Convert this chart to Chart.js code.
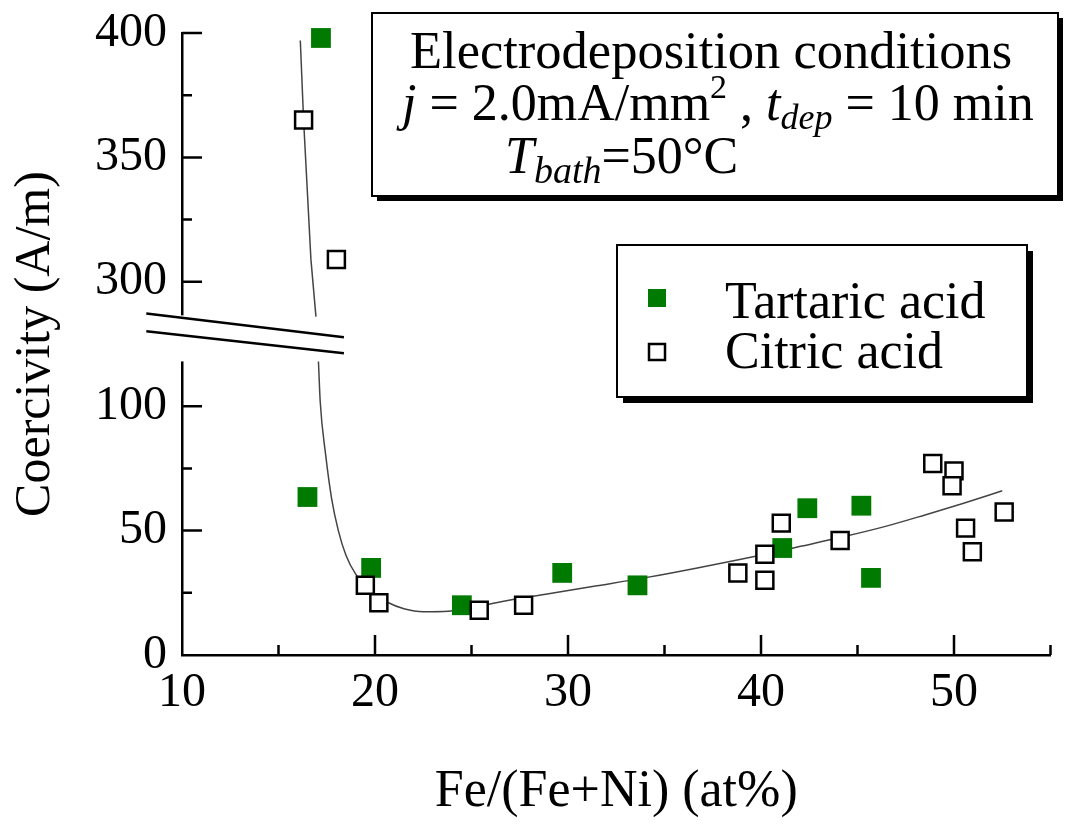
<!DOCTYPE html>
<html>
<head>
<meta charset="utf-8">
<script src="https://cdn.jsdelivr.net/npm/chart.js@4.4.1/dist/chart.umd.min.js"></script>
<style>
  html, body { margin: 0; padding: 0; background: #fff; overflow: hidden; }
  #wrap { width: 1065px; height: 824px; }
</style>
</head>
<body>
<div id="wrap"><canvas id="coercivity"></canvas></div>
<script>
const SERIF = '"Liberation Serif", "Times New Roman", serif';

// Fe/(Fe+Ni) (at%) and coercivity (A/m)
const tartaricFe = [17.2, 16.5, 19.8, 24.5, 29.7, 33.6, 41.1, 42.4, 45.2, 45.7];
const tartaricHc = [398, 63.5, 35, 20, 33, 28, 43, 59, 60, 31];

const citricFe = [16.3, 18.0, 19.5, 20.2, 25.4, 27.7, 38.8, 40.2, 40.2, 41.05, 44.1, 48.9, 50.0, 49.9, 50.6, 50.95, 52.6];
const citricHc = [365, 309, 28, 21, 18, 20, 33, 40.5, 30, 53, 46, 77, 74, 68, 51, 41.5, 57.5];

// trend line (above and below the axis break)
const fitUpperFe = [16.13, 16.3, 16.68, 16.94];
const fitUpperHc = [397, 365, 309, 286];
const fitLowerFe = [17.07, 17.16, 17.45, 17.75, 18.1, 18.5, 19.0, 19.8, 20.7, 21.5, 22.5, 23.8, 25.0, 26.4, 29.0, 31.5, 34.1, 36.7, 39.9, 42.0, 44.2, 46.5, 48.5, 50.5, 52.5];
const fitLowerHc = [118, 102, 80, 63, 50, 40, 32.5, 25.5, 21, 18.6, 17.4, 17.6, 18.8, 21.2, 24.6, 27.8, 31.2, 35.0, 40.0, 43.6, 47.4, 51.8, 56.3, 61, 66];

const xTicks = [10, 20, 30, 40, 50];
const yTickLabels = [0, 50, 100, 300, 350, 400];

// broken y axis: 150..250 on the axis shows 300..400
const BREAK_SHIFT = 150;
const toAxis = (v) => (v > 200 ? v - BREAK_SHIFT : v);
const pts = (xs, ys) => xs.map((x, i) => ({ x: x, y: toAxis(ys[i]) }));

const GREEN = '#007a00';

function drawRuns(ctx, x, y, runs) {
    runs.forEach((r) => {
        ctx.font = `${r.italic ? 'italic ' : ''}${r.size || 52}px ${SERIF}`;
        ctx.fillText(r.text, x, y + (r.dy || 0));
        x += ctx.measureText(r.text).width;
    });
}

function shadowBox(ctx, l, t, r, b, off) {
    ctx.fillStyle = '#000';
    ctx.fillRect(l + off, t + off, r - l, b - t);
    ctx.fillStyle = '#fff';
    ctx.fillRect(l, t, r - l, b - t);
    ctx.strokeStyle = '#000';
    ctx.lineWidth = 2;
    ctx.strokeRect(l, t, r - l, b - t);
}

const frame = {
    id: 'frame',
    afterDraw(chart) {
        const { ctx, chartArea: a, scales: { x, y } } = chart;
        ctx.save();

        // gap in the y axis where it is broken
        const gTop = y.getPixelForValue(136.5);
        const gBot = y.getPixelForValue(118);
        ctx.fillStyle = '#fff';
        ctx.fillRect(a.left - 5, gTop, 10, gBot - gTop);

        // inward tick marks
        ctx.strokeStyle = '#000';
        ctx.lineWidth = 2.5;
        ctx.beginPath();
        for (let v = 15; v <= 55; v += 5) {
            const px = x.getPixelForValue(v);
            const len = xTicks.includes(v) ? 20 : 10;
            ctx.moveTo(px, a.bottom);
            ctx.lineTo(px, a.bottom - len);
        }
        for (let v = 25; v <= 250; v += 25) {
            if (v === 125) continue;
            const py = y.getPixelForValue(v);
            const len = v % 50 === 0 ? 20 : 10;
            ctx.moveTo(a.left, py);
            ctx.lineTo(a.left + len, py);
        }
        ctx.stroke();

        // break marks
        ctx.beginPath();
        [[8.15, 137.3, 18.39, 127.7], [8.15, 130.1, 18.39, 121.3]].forEach(([x0, y0, x1, y1]) => {
            ctx.moveTo(x.getPixelForValue(x0), y.getPixelForValue(y0));
            ctx.lineTo(x.getPixelForValue(x1), y.getPixelForValue(y1));
        });
        ctx.stroke();

        // conditions box
        shadowBox(ctx, 372, 13, 1058, 196, 5);
        ctx.fillStyle = '#000';
        ctx.textBaseline = 'alphabetic';
        ctx.textAlign = 'left';
        drawRuns(ctx, 410, 68, [{ text: 'Electrodeposition conditions', size: 52.5 }]);
        drawRuns(ctx, 402, 120, [
            { text: 'j', italic: true },
            { text: ' = 2.0mA/mm' },
            { text: '2', size: 34, dy: -22 },
            { text: ' , ' },
            { text: 't', italic: true },
            { text: 'dep', italic: true, size: 36, dy: 9 },
            { text: ' = 10 min' },
        ]);
        drawRuns(ctx, 505, 173, [
            { text: 'T', italic: true },
            { text: 'bath', italic: true, size: 38, dy: 10 },
            { text: '=50°C' },
        ]);

        // legend box
        shadowBox(ctx, 617, 245, 1027, 397, 6);
        ctx.fillStyle = GREEN;
        ctx.fillRect(648, 289, 18, 18);
        ctx.fillStyle = '#fff';
        ctx.strokeStyle = '#000';
        ctx.lineWidth = 2.5;
        ctx.fillRect(649, 344, 16, 16);
        ctx.strokeRect(649, 344, 16, 16);
        ctx.fillStyle = '#000';
        drawRuns(ctx, 725, 318, [{ text: 'Tartaric acid' }]);
        drawRuns(ctx, 725, 368, [{ text: 'Citric acid' }]);

        ctx.restore();
    },
};

new Chart(document.getElementById('coercivity'), {
    type: 'scatter',
    data: {
        datasets: [
            {
                label: 'Citric acid',
                data: pts(citricFe, citricHc),
                pointStyle: 'rect',
                pointRadius: 12,
                borderWidth: 2.5,
                borderColor: '#000',
                backgroundColor: '#fff',
                clip: false,
                order: 1,
            },
            {
                label: 'Tartaric acid',
                data: pts(tartaricFe, tartaricHc),
                pointStyle: 'rect',
                pointRadius: 14,
                borderWidth: 0,
                backgroundColor: GREEN,
                clip: false,
                order: 2,
            },
            {
                label: 'fit upper',
                data: pts(fitUpperFe, fitUpperHc),
                showLine: true,
                pointRadius: 0,
                borderColor: '#444',
                borderWidth: 1.5,
                order: 3,
            },
            {
                label: 'fit lower',
                data: pts(fitLowerFe, fitLowerHc),
                showLine: true,
                pointRadius: 0,
                borderColor: '#444',
                borderWidth: 1.5,
                cubicInterpolationMode: 'monotone',
                order: 3,
            },
        ],
    },
    options: {
        responsive: true,
        maintainAspectRatio: false,
        animation: false,
        layout: { padding: { top: 33, right: 10, left: 0, bottom: 0 } },
        plugins: {
            legend: { display: false },
            tooltip: { enabled: false },
        },
        scales: {
            x: {
                type: 'linear',
                min: 10,
                max: 55,
                afterFit: (s) => { s.height = 169; s.paddingLeft = 0; s.paddingRight = 0; },
                afterBuildTicks: (s) => { s.ticks = xTicks.map((v) => ({ value: v })); },
                grid: { display: false, drawTicks: false },
                border: { display: true, color: '#000', width: 2.5 },
                ticks: {
                    padding: 10,
                    color: '#000',
                    font: { family: SERIF, size: 48 },
                },
                title: {
                    display: true,
                    text: 'Fe/(Fe+Ni) (at%)',
                    color: '#000',
                    font: { family: SERIF, size: 52 },
                    padding: { top: 0, bottom: 0 },
                },
            },
            y: {
                type: 'linear',
                min: 0,
                max: 250,
                afterFit: (s) => {
                    s.width = 182;
                    s.paddingTop = 0;
                    s.paddingBottom = 0;
                    s.paddingLeft = 0;
                    s.paddingRight = 0;
                },
                grid: { display: false, drawTicks: false },
                border: { display: true, color: '#000', width: 2.5 },
                ticks: {
                    stepSize: 50,
                    padding: 15,
                    color: '#000',
                    font: { family: SERIF, size: 48 },
                    callback: (v, i) => yTickLabels[i],
                },
                title: {
                    display: true,
                    text: 'Coercivity (A/m)',
                    color: '#000',
                    font: { family: SERIF, size: 50 },
                    padding: { top: 6, bottom: 0 },
                },
            },
        },
    },
    plugins: [frame],
});
</script>
</body>
</html>
